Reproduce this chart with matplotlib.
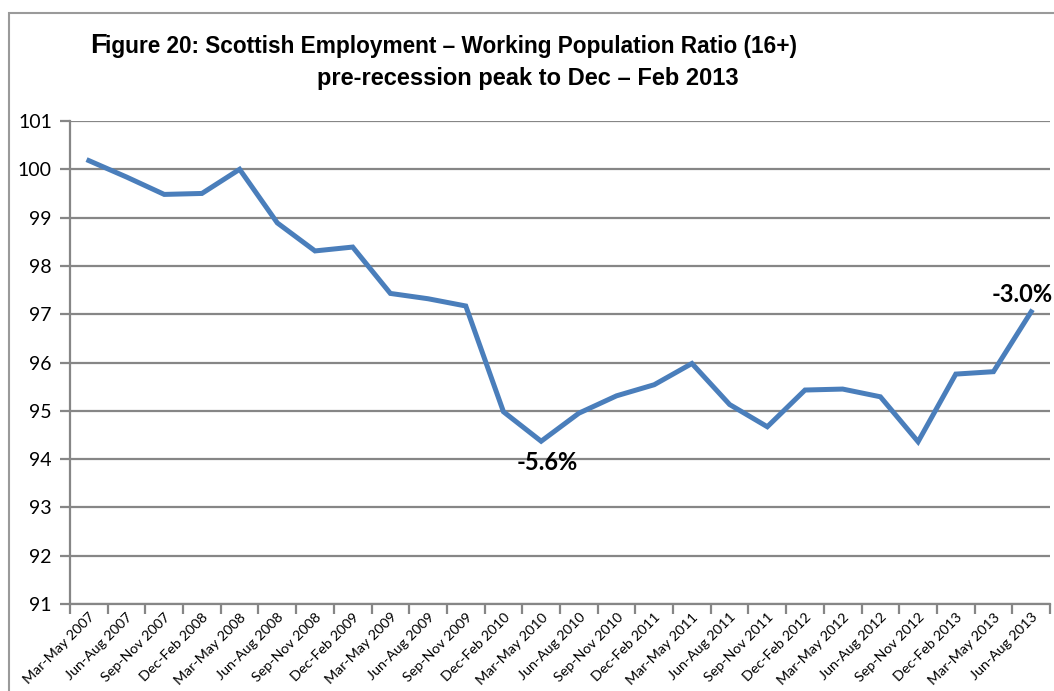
import numpy as np
import matplotlib.pyplot as plt
from matplotlib.patches import Rectangle

# --- quarterly periods and working population ratio index (peak = 100) ---
periods = [
    "Mar-May 2007", "Jun-Aug 2007", "Sep-Nov 2007", "Dec-Feb 2008",
    "Mar-May 2008", "Jun-Aug 2008", "Sep-Nov 2008", "Dec-Feb 2009",
    "Mar-May 2009", "Jun-Aug 2009", "Sep-Nov 2009", "Dec-Feb 2010",
    "Mar-May 2010", "Jun-Aug 2010", "Sep-Nov 2010", "Dec-Feb 2011",
    "Mar-May 2011", "Jun-Aug 2011", "Sep-Nov 2011", "Dec-Feb 2012",
    "Mar-May 2012", "Jun-Aug 2012", "Sep-Nov 2012", "Dec-Feb 2013",
    "Mar-May 2013", "Jun-Aug 2013",
]
ratio_index = [
    100.18, 99.84, 99.48, 99.50, 100.00, 98.89, 98.31, 98.39,
    97.43, 97.32, 97.17, 94.98, 94.37, 94.95, 95.31, 95.54,
    95.98, 95.13, 94.67, 95.43, 95.45, 95.29, 94.36, 95.76,
    95.81, 97.05,
]
callouts = {12: "-5.6%", 25: "-3.0%"}

GRID = "#868686"
LINE = "#4a7ebb"

fig = plt.figure(figsize=(10.54, 6.91), dpi=100)
W, H = 1054, 691

# outer chart border
fig.patches.append(Rectangle((9 / W, -0.1), 1.2, 1 - 13 / H + 0.1, transform=fig.transFigure,
                             fill=False, edgecolor="#9a9a9a", linewidth=1.5))

ax = fig.add_axes([70 / W, (H - 604) / H, 980 / W, 483 / H])
x = np.arange(len(periods))
ax.plot(x, ratio_index, color=LINE, linewidth=3.6, solid_joinstyle="miter", zorder=3)

ax.set_xlim(-0.5, len(periods) - 0.5)
ax.set_ylim(91, 101)
ax.set_yticks(np.arange(91, 102, 1))
ax.yaxis.grid(True, color=GRID, linewidth=1.6)
ax.set_axisbelow(True)
for s in ["top", "right"]:
    ax.spines[s].set_visible(False)
for s in ["left", "bottom"]:
    ax.spines[s].set_color(GRID)
    ax.spines[s].set_linewidth(1.6)

ax.tick_params(axis="y", length=7, width=1.6, color=GRID, labelsize=14, pad=6)
ax.set_yticklabels([str(v) for v in range(91, 102)], family="Lato")

# category labels at centres, tick marks at category boundaries
ax.set_xticks(x)
ax.set_xticklabels(periods, rotation=45, ha="right", rotation_mode="anchor",
                   fontsize=10.3, family="Lato")
ax.tick_params(axis="x", which="major", length=0, pad=5)
ax.set_xticks(np.arange(-0.5, len(periods), 1), minor=True)
ax.tick_params(axis="x", which="minor", length=7, width=1.6, color=GRID)

offsets = {12: (0.15, -0.45), 25: (-0.25, 0.36)}
for i, txt in callouts.items():
    dx, dy = offsets[i]
    ax.text(x[i] + dx, ratio_index[i] + dy, txt, ha="center", va="center",
            fontsize=17, fontweight="bold", family="Lato", clip_on=False)

# two-line title, big first letter
fig.text(90 / W, 1 - 46 / H, "F", fontsize=19.5, fontweight="bold", family="Liberation Sans",
         va="center", ha="left")
fig.text(105 / W, 1 - 47 / H, "igure 20: Scottish Employment \u2013 Working Population Ratio (16+)",
         fontsize=16.3, fontweight="bold", family="Liberation Sans", va="center", ha="left")
fig.text(528 / W, 1 - 78 / H, "pre-recession peak to Dec \u2013 Feb 2013",
         fontsize=17, fontweight="bold", family="Liberation Sans", va="center", ha="center")

fig.savefig("out.png", dpi=100)
